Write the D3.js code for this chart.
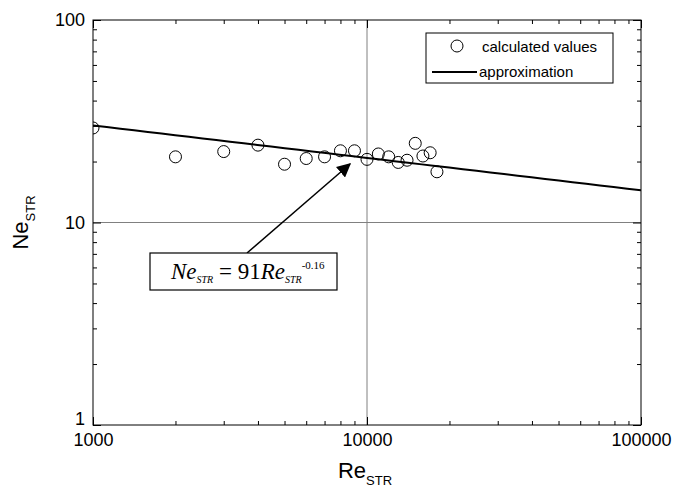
<!DOCTYPE html>
<html>
<head>
<meta charset="utf-8">
<script src="https://cdn.jsdelivr.net/npm/d3@7"></script>
<style>
  html, body { margin: 0; padding: 0; background: #fff; }
  svg { display: block; font-family: Arial, "Liberation Sans", sans-serif; }
</style>
</head>
<body>
<svg id="chart" width="675" height="501"></svg>
<script>
// Calculated values of Ne_STR against Re_STR
const reValues = [1000, 2000, 3000, 4000, 5000, 6000, 7000, 8000, 9000, 10000,
                  11000, 12000, 13000, 14000, 15000, 16000, 17000, 18000];
const neValues = [29.3, 21.1, 22.4, 24.1, 19.4, 20.7, 21.1, 22.6, 22.6, 20.5,
                  21.8, 21.1, 19.8, 20.3, 24.6, 21.3, 22.1, 17.8];

// Power-law approximation Ne = 91 * Re^-0.16
const fitCoef = 91;
const fitExp = -0.16;
const fitRange = [1000, 100000];

const xMajorTicks = [1000, 10000, 100000];
const yMajorTicks = [1, 10, 100];
const xTickLabels = ["1000", "10000", "100000"];
const yTickLabels = ["1", "10", "100"];

const svg = d3.select("#chart");
const margin = { left: 93, top: 20, right: 34, bottom: 76 };
const W = 675, H = 501;
const x0 = margin.left, x1 = W - margin.right;
const y0 = margin.top, y1 = H - margin.bottom;

const x = d3.scaleLog().domain([1000, 100000]).range([x0, x1]);
const y = d3.scaleLog().domain([1, 100]).range([y1, y0]);

const minors = (lo, hi) => {
  const out = [];
  for (let d = lo; d < hi; d *= 10) for (let k = 2; k <= 9; k++) out.push(d * k);
  return out;
};
const xMinor = minors(1000, 100000);
const yMinor = minors(1, 100);

// Grid lines through the middle decade marks
svg.append("line")
  .attr("x1", x(10000)).attr("x2", x(10000)).attr("y1", y0).attr("y2", y1)
  .attr("stroke", "#808080").attr("stroke-width", 1);
svg.append("line")
  .attr("x1", x0).attr("x2", x1).attr("y1", y(10)).attr("y2", y(10))
  .attr("stroke", "#808080").attr("stroke-width", 1);

const majorLen = 8, minorLen = 4;
const styleAxis = g => {
  g.select(".domain").remove();
  g.selectAll(".tick line").attr("stroke", "#000");
};

// Bottom axis
svg.append("g").attr("transform", `translate(0,${y1})`)
  .call(d3.axisBottom(x).tickValues(xMinor).tickSize(-minorLen).tickFormat(""))
  .call(styleAxis);
svg.append("g").attr("transform", `translate(0,${y1})`)
  .call(d3.axisBottom(x).tickValues(xMajorTicks).tickSize(-majorLen).tickPadding(8)
        .tickFormat((d, i) => xTickLabels[i]))
  .call(styleAxis)
  .call(g => g.selectAll("text").attr("font-size", 18).attr("fill", "#000")
              .attr("font-family", "Arial, 'Liberation Sans', sans-serif"));
// Top axis
svg.append("g").attr("transform", `translate(0,${y0})`)
  .call(d3.axisTop(x).tickValues(xMinor).tickSize(-minorLen).tickFormat(""))
  .call(styleAxis);
svg.append("g").attr("transform", `translate(0,${y0})`)
  .call(d3.axisTop(x).tickValues(xMajorTicks).tickSize(-majorLen).tickFormat(""))
  .call(styleAxis);
// Left axis
svg.append("g").attr("transform", `translate(${x0},0)`)
  .call(d3.axisLeft(y).tickValues(yMinor).tickSize(-minorLen).tickFormat(""))
  .call(styleAxis);
svg.append("g").attr("transform", `translate(${x0},0)`)
  .call(d3.axisLeft(y).tickValues(yMajorTicks).tickSize(-majorLen).tickPadding(8)
        .tickFormat((d, i) => yTickLabels[i]))
  .call(styleAxis)
  .call(g => g.selectAll("text").attr("font-size", 18).attr("fill", "#000")
              .attr("font-family", "Arial, 'Liberation Sans', sans-serif")
              // lift the lowest label clear of the x-axis label beneath it
              .attr("dy", d => d === 1 ? "-0.05em" : "0.32em"));
// Right axis
svg.append("g").attr("transform", `translate(${x1},0)`)
  .call(d3.axisRight(y).tickValues(yMinor).tickSize(-minorLen).tickFormat(""))
  .call(styleAxis);
svg.append("g").attr("transform", `translate(${x1},0)`)
  .call(d3.axisRight(y).tickValues(yMajorTicks).tickSize(-majorLen).tickFormat(""))
  .call(styleAxis);

// Frame
svg.append("rect")
  .attr("x", x0).attr("y", y0).attr("width", x1 - x0).attr("height", y1 - y0)
  .attr("fill", "none").attr("stroke", "#000").attr("stroke-width", 1);

// Plot content clipped to the frame
svg.append("clipPath").attr("id", "plotClip")
  .append("rect").attr("x", x0).attr("y", y0).attr("width", x1 - x0).attr("height", y1 - y0);
const plot = svg.append("g").attr("clip-path", "url(#plotClip)");

const fitPoints = d3.range(0, 41).map(i => {
  const re = fitRange[0] * Math.pow(fitRange[1] / fitRange[0], i / 40);
  return [re, fitCoef * Math.pow(re, fitExp)];
});
plot.append("path")
  .datum(fitPoints)
  .attr("fill", "none").attr("stroke", "#000").attr("stroke-width", 2)
  .attr("d", d3.line().x(d => x(d[0])).y(d => y(d[1])));

plot.selectAll("circle.pt")
  .data(reValues.map((re, i) => [re, neValues[i]]))
  .join("circle")
  .attr("class", "pt")
  .attr("cx", d => x(d[0])).attr("cy", d => y(d[1])).attr("r", 6)
  .attr("fill", "none").attr("stroke", "#000").attr("stroke-width", 1);

// Legend
const lg = svg.append("g");
lg.append("rect").attr("x", 426).attr("y", 33).attr("width", 187).attr("height", 50)
  .attr("fill", "#fff").attr("stroke", "#000").attr("stroke-width", 1);
lg.append("circle").attr("cx", 457).attr("cy", 46).attr("r", 6)
  .attr("fill", "none").attr("stroke", "#000");
lg.append("text").attr("x", 482).attr("y", 52).attr("font-size", 15).text("calculated values");
lg.append("line").attr("x1", 432).attr("x2", 477).attr("y1", 72).attr("y2", 72)
  .attr("stroke", "#000").attr("stroke-width", 2);
lg.append("text").attr("x", 479).attr("y", 77).attr("font-size", 15).text("approximation");

// Formula annotation with arrow
svg.append("defs").append("marker")
  .attr("id", "arrowHead").attr("viewBox", "0 0 10 10")
  .attr("refX", 9).attr("refY", 5).attr("markerWidth", 14).attr("markerHeight", 14)
  .attr("markerUnits", "userSpaceOnUse").attr("orient", "auto")
  .append("path").attr("d", "M0,0 L10,5 L0,10 z").attr("fill", "#000");
svg.append("line").attr("x1", 247).attr("y1", 253).attr("x2", 350).attr("y2", 164)
  .attr("stroke", "#000").attr("stroke-width", 1.5).attr("marker-end", "url(#arrowHead)");

svg.append("rect").attr("x", 150).attr("y", 253).attr("width", 187).attr("height", 37)
  .attr("fill", "#fff").attr("stroke", "#000").attr("stroke-width", 1.2);
const ft = svg.append("text").attr("x", 171).attr("y", 279)
  .attr("font-family", "'Liberation Serif', 'Times New Roman', serif").attr("font-size", 23);
ft.append("tspan").attr("font-style", "italic").text("Ne");
ft.append("tspan").attr("font-style", "italic").attr("font-size", 10).attr("dy", 4).text("STR");
ft.append("tspan").attr("dy", -4).text(" = 91");
ft.append("tspan").attr("font-style", "italic").text("Re");
ft.append("tspan").attr("font-style", "italic").attr("font-size", 10).attr("dy", 4).text("STR");
ft.append("tspan").attr("font-size", 11).attr("dy", -14).text("-0.16");

// Axis titles
const xt = svg.append("text").attr("x", (x0 + x1) / 2 - 2).attr("y", 478)
  .attr("text-anchor", "middle").attr("font-size", 22);
xt.append("tspan").text("Re");
xt.append("tspan").attr("font-size", 13).attr("dy", 7).text("STR");

const yt = svg.append("text")
  .attr("transform", `translate(28,${(y0 + y1) / 2}) rotate(-90)`)
  .attr("text-anchor", "middle").attr("font-size", 22);
yt.append("tspan").text("Ne");
yt.append("tspan").attr("font-size", 13).attr("dy", 7).text("STR");
</script>
</body>
</html>
